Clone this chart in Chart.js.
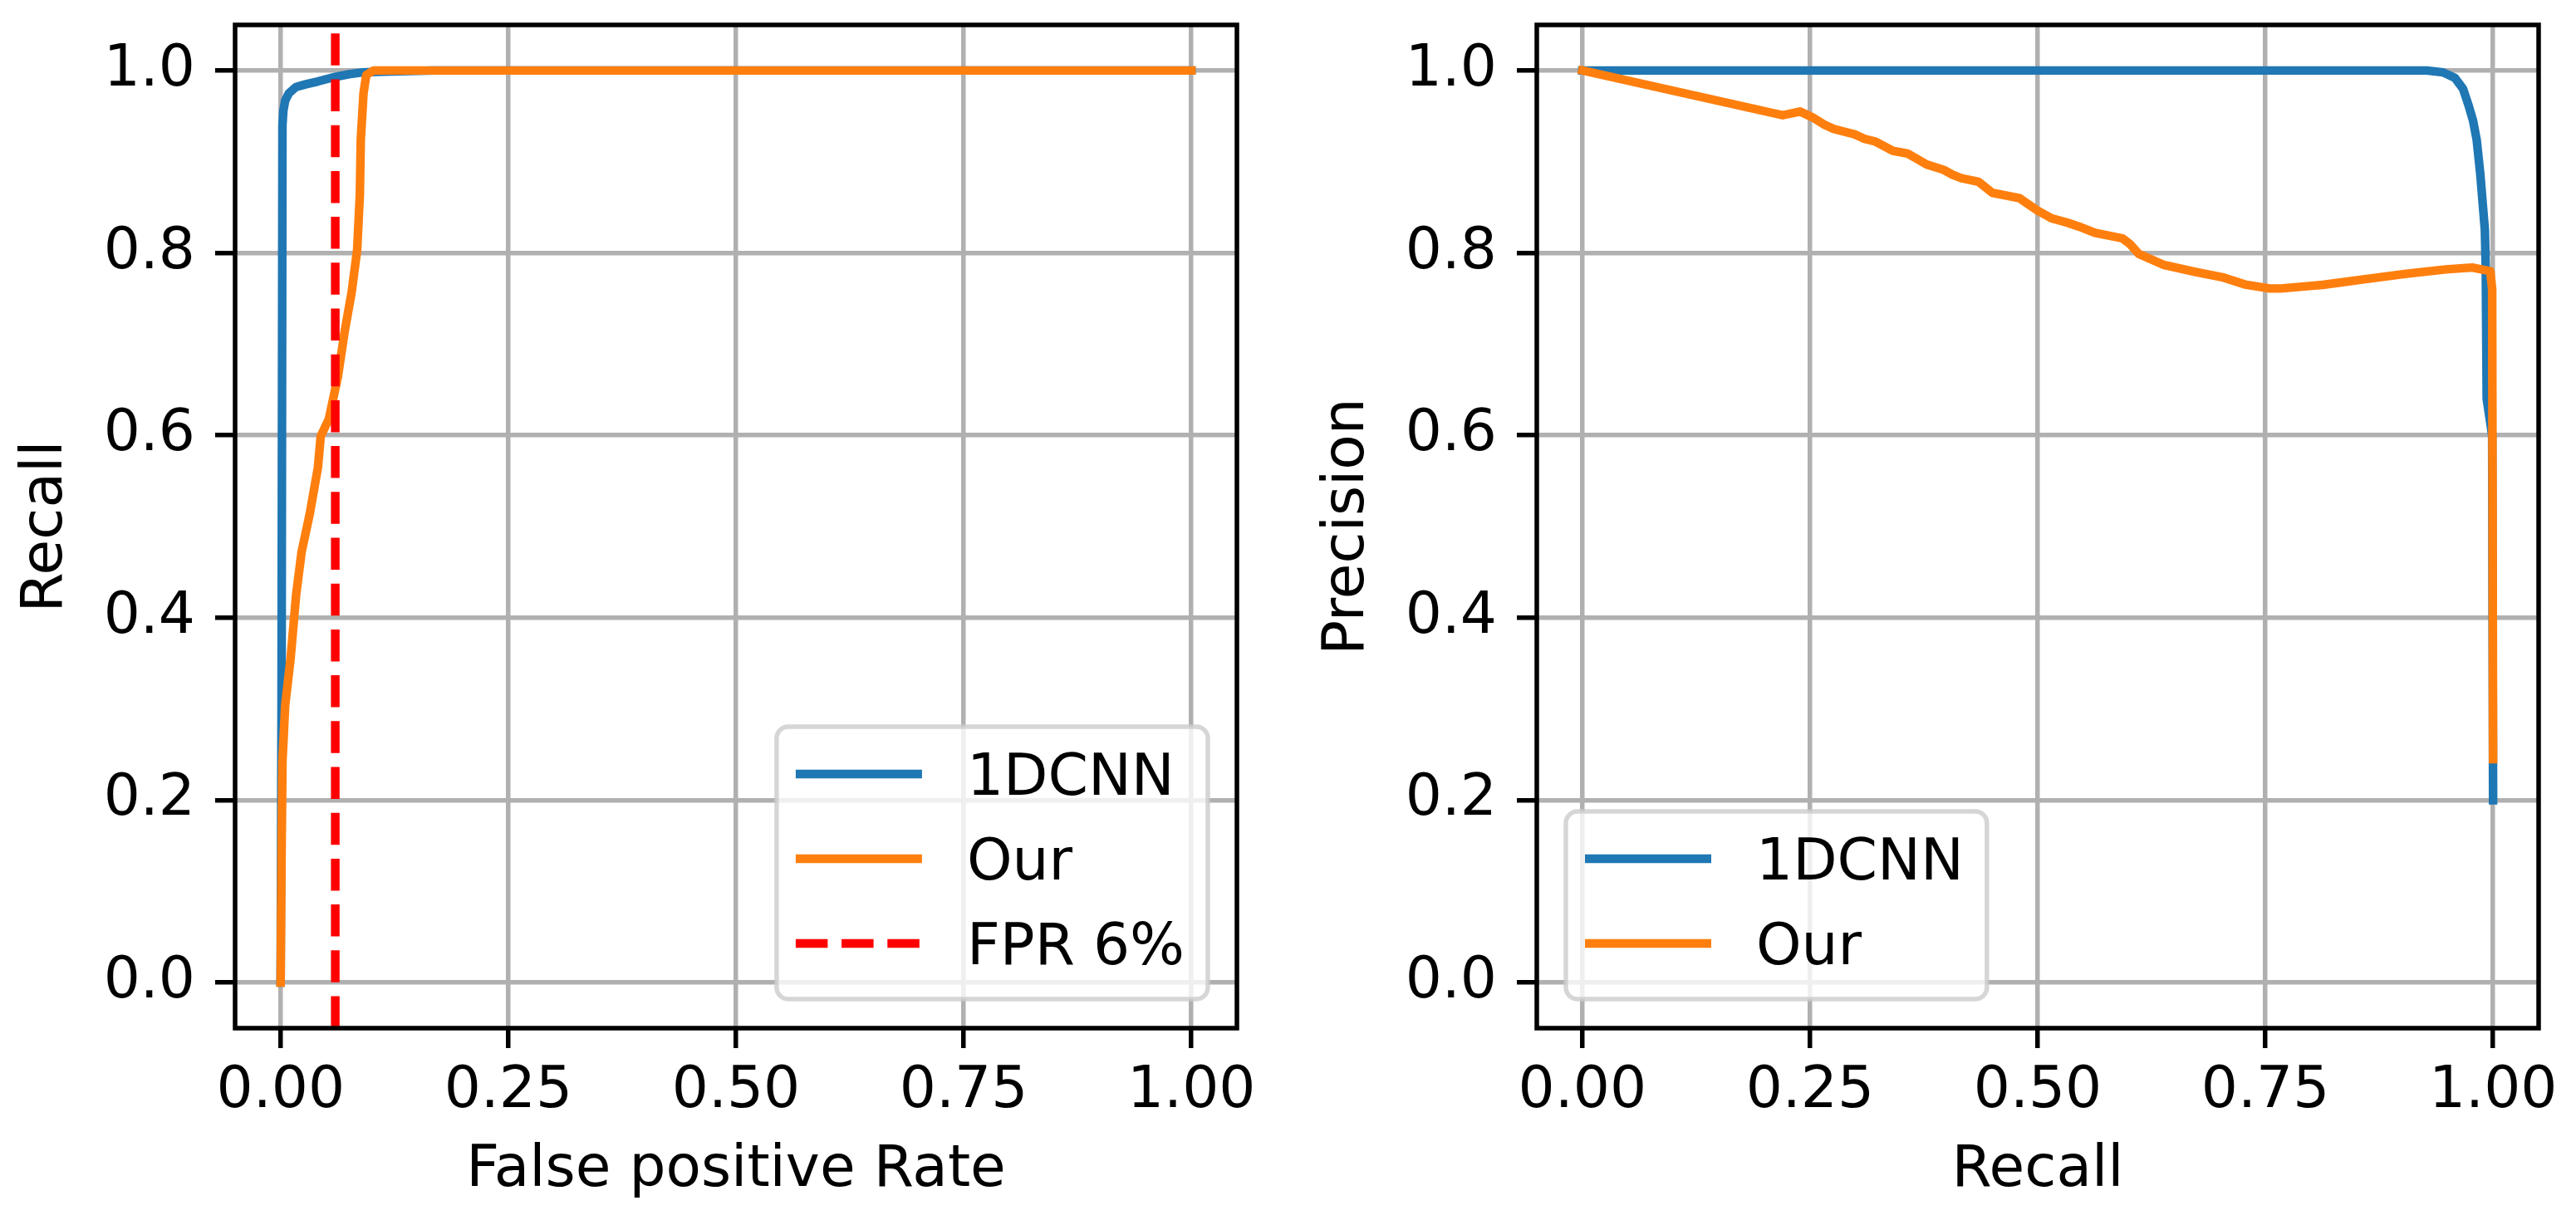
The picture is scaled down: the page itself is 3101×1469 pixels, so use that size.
<!DOCTYPE html>
<html>
<head>
<meta charset="utf-8">
<script src="https://cdn.jsdelivr.net/npm/chart.js@4.4.0/dist/chart.umd.min.js"></script>
<style>
  html, body { margin: 0; padding: 0; background: #fff; width: 3101px; height: 1469px; overflow: hidden; }
  canvas { position: absolute; top: 0; }
  #chart-roc { left: 0; }
  #chart-pr { left: 1560px; }
</style>
</head>
<body>
<canvas id="chart-roc" width="1560" height="1469"></canvas>
<canvas id="chart-pr" width="1541" height="1469"></canvas>
<script>
// Ticks
const xTicks = [0, 0.25, 0.5, 0.75, 1.0]
const xTickLabels = ['0.00', '0.25', '0.50', '0.75', '1.00']
const yTicks = [0, 0.2, 0.4, 0.6, 0.8, 1.0]
const yTickLabels = ['0.0', '0.2', '0.4', '0.6', '0.8', '1.0']

// 1º Gráfico - ROC
const rocFprCnn = [0, 0.001, 0.002, 0.003, 0.005, 0.009, 0.017, 0.028, 0.041, 0.06, 0.075, 0.09, 0.12, 0.17, 0.4, 1.0]
const rocTprCnn = [0, 0.3, 0.94, 0.956, 0.967, 0.975, 0.982, 0.985, 0.988, 0.993, 0.996, 0.998, 0.999, 1.0, 1.0, 1.0]

const rocFprOur = [0, 0.001, 0.002, 0.005, 0.011, 0.017, 0.023, 0.032, 0.041, 0.044, 0.053, 0.063, 0.07, 0.078, 0.084, 0.087, 0.088, 0.091, 0.094, 0.102, 0.3, 1.0]
const rocTprOur = [0, 0.137, 0.242, 0.304, 0.356, 0.425, 0.472, 0.514, 0.565, 0.599, 0.618, 0.665, 0.712, 0.757, 0.803, 0.864, 0.924, 0.975, 0.995, 1.0, 1.0, 1.0]

const fprLimit = 0.06
const fprLineY = [-0.05, 1.05]

// 2º Gráfico - Precision / Recall
const prRecallCnn = [0, 0.5, 0.927, 0.945, 0.958, 0.967, 0.973, 0.978, 0.982, 0.986, 0.991, 0.992, 0.993, 0.999, 1.0]
const prPrecisionCnn = [1.0, 1.0, 1.0, 0.998, 0.992, 0.98, 0.962, 0.945, 0.924, 0.886, 0.825, 0.78, 0.64, 0.6, 0.2]

const prRecallOur = [0, 0.22, 0.239, 0.254, 0.265, 0.276, 0.299, 0.31, 0.322, 0.341, 0.357, 0.378, 0.397, 0.406, 0.416, 0.435, 0.45, 0.48, 0.499, 0.515, 0.533, 0.545, 0.563, 0.593, 0.601, 0.611, 0.638, 0.674, 0.704, 0.729, 0.755, 0.767, 0.801, 0.813, 0.858, 0.903, 0.948, 0.977, 0.997, 0.999, 1.0]
const prPrecisionOur = [1.0, 0.951, 0.955, 0.948, 0.941, 0.936, 0.93, 0.925, 0.922, 0.912, 0.909, 0.897, 0.891, 0.886, 0.882, 0.878, 0.866, 0.86, 0.847, 0.838, 0.833, 0.829, 0.822, 0.816, 0.81, 0.799, 0.787, 0.779, 0.773, 0.765, 0.761, 0.761, 0.764, 0.765, 0.771, 0.777, 0.782, 0.784, 0.78, 0.76, 0.245]

const BLUE = '#1f77b4'
const ORANGE = '#ff7f0e'
const FONT = "'DejaVu Sans'"
const FS = 69.4

Chart.defaults.font.family = FONT
Chart.defaults.font.size = FS
Chart.defaults.color = '#000'

function pts(xs, ys) {
  return xs.map((x, i) => ({ x: x, y: ys[i] }))
}

// Moldura (4 eixos) como no matplotlib
const frame = {
  id: 'frame',
  afterDatasetsDraw(chart) {
    const { ctx, chartArea: a } = chart
    ctx.save()
    ctx.lineWidth = 5.5
    ctx.strokeStyle = '#000'
    ctx.strokeRect(a.left, a.top, a.right - a.left, a.bottom - a.top)
    ctx.restore()
  }
}

// Legenda dentro da área do gráfico
const boxLegend = {
  id: 'boxLegend',
  afterDraw(chart, args, opts) {
    const { ctx, chartArea: a } = chart
    const items = chart.data.datasets
    ctx.save()
    ctx.font = FS + 'px ' + FONT
    const textW = Math.max(...items.map(d => ctx.measureText(d.label).width))
    const w = 229 + textW + 28
    const h = 124 + (items.length - 1) * 102
    const bx = opts.corner === 'left' ? a.left + 35 : a.right - 35 - w
    const by = a.bottom - 35 - h
    ctx.beginPath()
    ctx.roundRect(bx, by, w, h, 14)
    ctx.fillStyle = 'rgba(255,255,255,0.8)'
    ctx.fill()
    ctx.lineWidth = 5.5
    ctx.strokeStyle = 'rgba(204,204,204,0.8)'
    ctx.stroke()
    items.forEach((d, i) => {
      const y = by + 57 + i * 102
      ctx.beginPath()
      ctx.setLineDash(d.borderDash || [])
      ctx.strokeStyle = d.borderColor
      ctx.lineWidth = d.borderWidth
      ctx.lineCap = 'butt'
      ctx.moveTo(bx + 23, y)
      ctx.lineTo(bx + 175, y)
      ctx.stroke()
      ctx.setLineDash([])
      ctx.fillStyle = '#000'
      ctx.textBaseline = 'alphabetic'
      ctx.textAlign = 'left'
      ctx.fillText(d.label, bx + 229, y + 25.3)
    })
    ctx.restore()
  }
}

function makeScales(xTitle, yTitle, yWidth, yTitlePad) {
  const grid = { color: '#b0b0b0', lineWidth: 5.5, tickColor: '#000', tickWidth: 5.5, tickLength: 24 }
  return {
    x: {
      type: 'linear', min: -0.05, max: 1.05,
      afterBuildTicks: s => { s.ticks = xTicks.map(v => ({ value: v })) },
      afterFit: s => { s.height = 231; s.paddingLeft = 0; s.paddingRight = 0 },
      grid: grid,
      border: { display: false },
      ticks: { callback: (v, i) => xTickLabels[i], padding: 11, maxRotation: 0, autoSkip: false, color: '#000' },
      title: { display: true, text: xTitle, color: '#000', padding: { top: 0, bottom: 17 } }
    },
    y: {
      type: 'linear', min: -0.05, max: 1.05,
      afterBuildTicks: s => { s.ticks = yTicks.map(v => ({ value: v })) },
      afterFit: s => { s.width = yWidth; s.paddingTop = 0; s.paddingBottom = 0 },
      grid: grid,
      border: { display: false },
      ticks: { callback: (v, i) => yTickLabels[i], padding: 24, autoSkip: false, color: '#000' },
      title: { display: true, text: yTitle, color: '#000', padding: { top: yTitlePad, bottom: 0 } }
    }
  }
}

function lineSet(label, data, color, order) {
  return {
    label: label, data: data, borderColor: color, backgroundColor: color,
    borderWidth: 10.4, showLine: true, pointRadius: 0, tension: 0,
    borderCapStyle: 'square', borderJoinStyle: 'round', order: order
  }
}

const config_roc = {
  type: 'scatter',
  data: {
    datasets: [
      lineSet('1DCNN', pts(rocFprCnn, rocTprCnn), BLUE, 3),
      lineSet('Our', pts(rocFprOur, rocTprOur), ORANGE, 2),
      Object.assign(lineSet('FPR 6%', fprLineY.map(y => ({ x: fprLimit, y: y })), '#ff0000', 1),
        { borderDash: [38.5, 16.7], borderCapStyle: 'butt' })
    ]
  },
  options: {
    responsive: false, animation: false, devicePixelRatio: 1,
    layout: { padding: { top: 30, right: 71, bottom: 0, left: 0 } },
    scales: makeScales('False positive Rate', 'Recall', 283, 14),
    plugins: { legend: { display: false }, tooltip: { enabled: false }, boxLegend: { corner: 'right' } },
    events: []
  },
  plugins: [frame, boxLegend]
}

const config_pr = {
  type: 'scatter',
  data: {
    datasets: [
      lineSet('1DCNN', pts(prRecallCnn, prPrecisionCnn), BLUE, 2),
      lineSet('Our', pts(prRecallOur, prPrecisionOur), ORANGE, 1)
    ]
  },
  options: {
    responsive: false, animation: false, devicePixelRatio: 1,
    layout: { padding: { top: 30, right: 45, bottom: 0, left: 0 } },
    scales: makeScales('Recall', 'Precision', 290, 21),
    plugins: { legend: { display: false }, tooltip: { enabled: false }, boxLegend: { corner: 'left' } },
    events: []
  },
  plugins: [frame, boxLegend]
}

const myChart_roc = new Chart(document.getElementById('chart-roc'), config_roc)
const myChart_pr = new Chart(document.getElementById('chart-pr'), config_pr)
</script>
</body>
</html>
